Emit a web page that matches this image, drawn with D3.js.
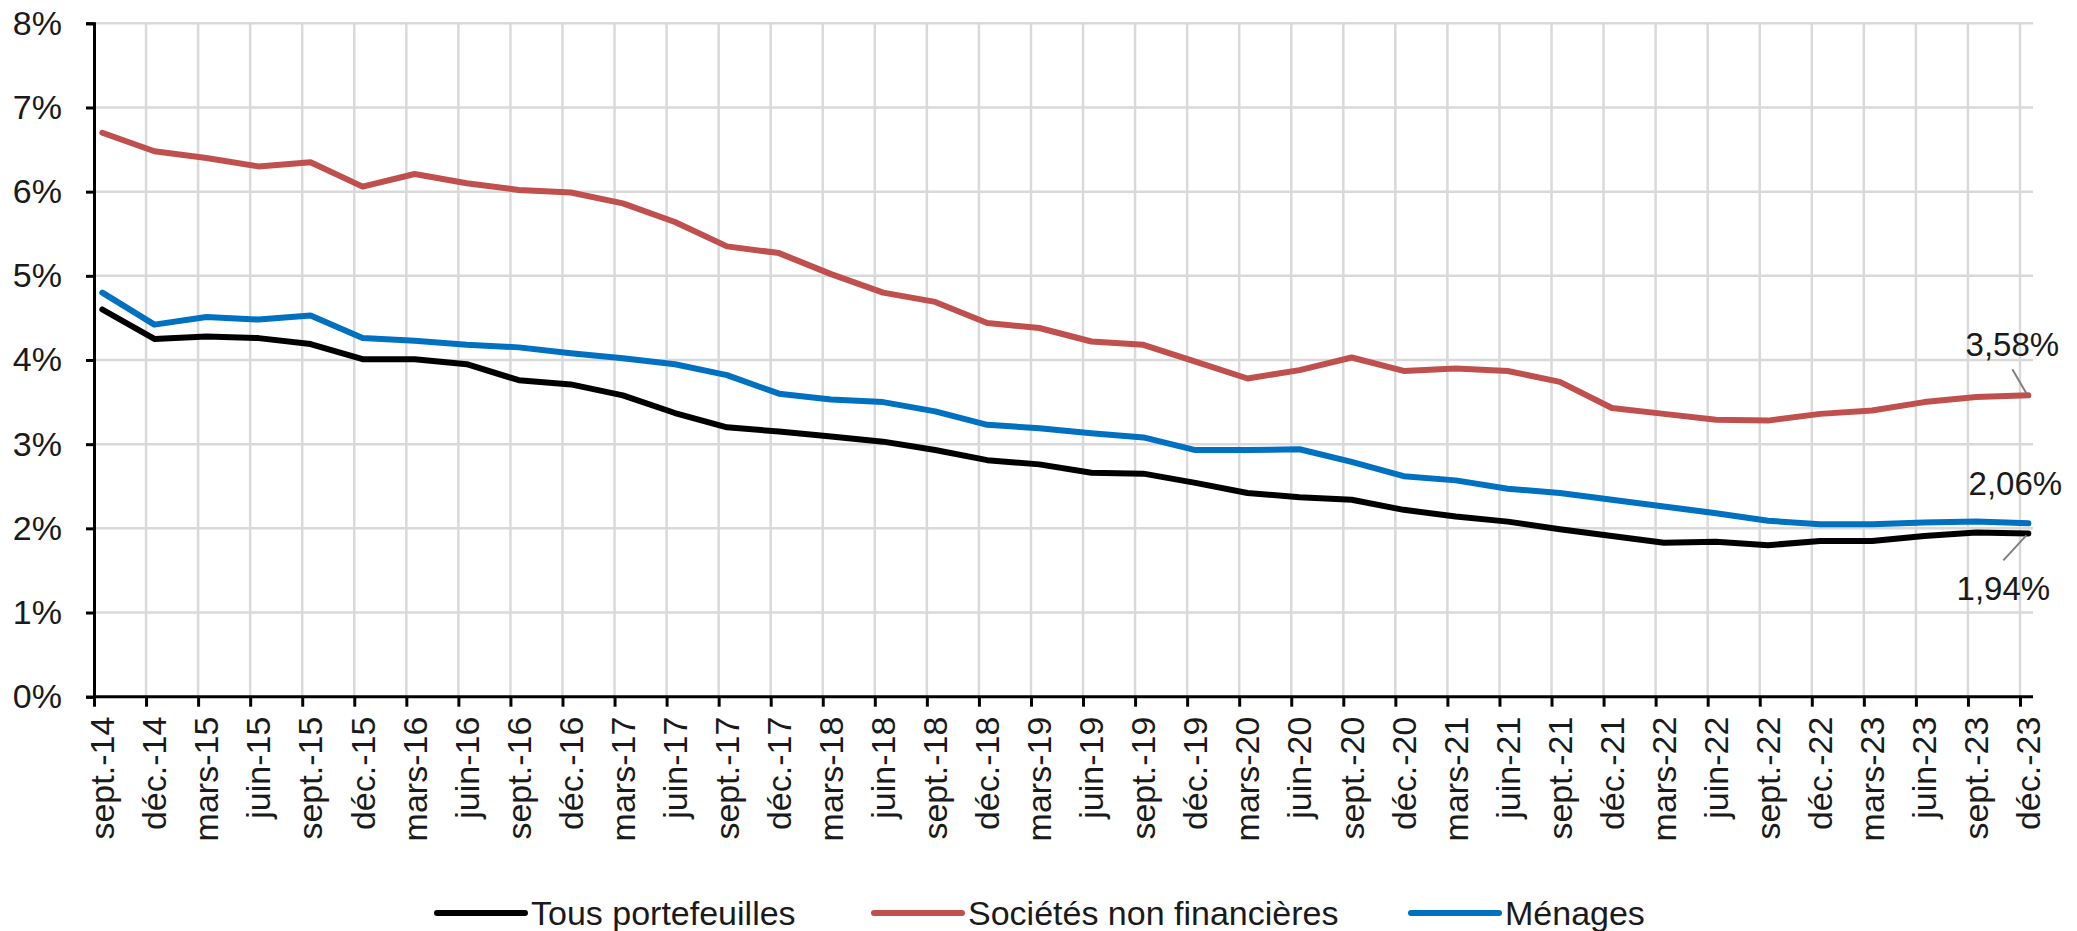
<!DOCTYPE html>
<html>
<head>
<meta charset="utf-8">
<script src="https://cdn.jsdelivr.net/npm/d3@7"></script>
<style>
  html, body { margin: 0; padding: 0; background: #fff; }
  svg { display: block; font-family: "Liberation Sans", Arial, sans-serif; }
</style>
</head>
<body>
<svg id="chart" width="2077" height="931"></svg>
<script>
const categories = ["sept.-14","déc.-14","mars-15","juin-15","sept.-15","déc.-15","mars-16","juin-16","sept.-16","déc.-16",
  "mars-17","juin-17","sept.-17","déc.-17","mars-18","juin-18","sept.-18","déc.-18","mars-19","juin-19",
  "sept.-19","déc.-19","mars-20","juin-20","sept.-20","déc.-20","mars-21","juin-21","sept.-21","déc.-21",
  "mars-22","juin-22","sept.-22","déc.-22","mars-23","juin-23","sept.-23","déc.-23"];

const tousPortefeuilles = [4.60,4.25,4.28,4.26,4.19,4.01,4.01,3.95,3.76,3.71,3.58,3.37,3.20,3.15,3.09,3.03,2.93,2.81,2.76,2.66,
  2.65,2.54,2.42,2.37,2.34,2.22,2.14,2.08,1.99,1.91,1.83,1.84,1.80,1.85,1.85,1.91,1.95,1.94];
const societesNonFinancieres = [6.70,6.48,6.40,6.30,6.35,6.06,6.21,6.10,6.02,5.99,5.86,5.64,5.35,5.27,5.02,4.80,4.69,4.44,4.38,4.22,
  4.18,3.98,3.78,3.88,4.03,3.87,3.90,3.87,3.74,3.43,3.36,3.29,3.28,3.36,3.40,3.50,3.56,3.58];
const menages = [4.80,4.42,4.51,4.48,4.53,4.26,4.23,4.18,4.15,4.08,4.02,3.95,3.82,3.60,3.53,3.50,3.39,3.23,3.19,3.13,
  3.08,2.93,2.93,2.94,2.79,2.62,2.57,2.47,2.42,2.34,2.26,2.18,2.09,2.05,2.05,2.07,2.08,2.06];

const yTicks = [0,1,2,3,4,5,6,7,8];
const yTickLabels = ["0%","1%","2%","3%","4%","5%","6%","7%","8%"];

const seriesNames = ["Tous portefeuilles","Sociétés non financières","Ménages"];
const seriesColors = ["#000000","#C0504D","#0070C0"];
const endLabels = ["1,94%","3,58%","2,06%"];

(function () {
const series = [
  {name: seriesNames[0], values: tousPortefeuilles, color: seriesColors[0], label: endLabels[0]},
  {name: seriesNames[1], values: societesNonFinancieres, color: seriesColors[1], label: endLabels[1]},
  {name: seriesNames[2], values: menages, color: seriesColors[2], label: endLabels[2]}
];

const svg = d3.select("#chart");
const plotLeft = 94, plotRight = 2020, plotTop = 23.3, plotBottom = 696.7, gridRight = 2033;
const pointOffset = 0.16;

const x = d3.scaleLinear().domain([0, categories.length - 1]).range([plotLeft, plotRight]);
const y = d3.scaleLinear().domain([0, 8]).range([plotBottom, plotTop]);
const px = i => x(i + pointOffset);

// horizontal gridlines
svg.append("g").selectAll("line").data(yTicks.filter(d => d > 0)).join("line")
  .attr("x1", plotLeft).attr("x2", gridRight)
  .attr("y1", d => y(d)).attr("y2", d => y(d))
  .attr("stroke", "#d9d9d9").attr("stroke-width", 2.5);

// vertical gridlines
svg.append("g").selectAll("line").data(d3.range(1, categories.length)).join("line")
  .attr("x1", d => x(d)).attr("x2", d => x(d))
  .attr("y1", plotTop).attr("y2", plotBottom)
  .attr("stroke", "#d9d9d9").attr("stroke-width", 2.5);

// y axis
const yAxis = d3.axisLeft(y).tickValues(yTicks).tickFormat((d, i) => yTickLabels[i]).tickSize(8).tickPadding(24);
const gy = svg.append("g").attr("transform", `translate(${plotLeft},0)`).call(yAxis);
gy.select(".domain").attr("stroke", "#000").attr("stroke-width", 3);
gy.selectAll(".tick line").attr("stroke", "#000").attr("stroke-width", 3);
gy.selectAll(".tick text").attr("font-size", 34).attr("fill", "#1a1a1a")
  .attr("font-family", "Liberation Sans, Arial, sans-serif");

// x axis ticks
const xAxis = d3.axisBottom(x).tickValues(d3.range(categories.length)).tickFormat("").tickSize(10).tickSizeOuter(0);
const gx = svg.append("g").attr("transform", `translate(0,${plotBottom})`).call(xAxis);
gx.select(".domain").attr("stroke", "#000").attr("stroke-width", 3).attr("d", `M${plotLeft},0H${gridRight}`);
gx.selectAll(".tick line").attr("stroke", "#000").attr("stroke-width", 3);

// x labels rotated
svg.append("g").selectAll("text").data(categories).join("text")
  .attr("transform", (d, i) => `translate(${px(i)},${plotBottom + 20}) rotate(-90)`)
  .attr("text-anchor", "end")
  .attr("dy", "0.35em")
  .attr("font-size", 34)
  .attr("fill", "#1a1a1a")
  .text(d => d);

// lines
const line = d3.line().x((d, i) => px(i)).y(d => y(d)).curve(d3.curveLinear);
const drawOrder = [1, 2, 0];
drawOrder.forEach(k => {
  const s = series[k];
  svg.append("path").datum(s.values)
    .attr("d", line)
    .attr("fill", "none")
    .attr("stroke", s.color)
    .attr("stroke-width", 6)
    .attr("stroke-linejoin", "round")
    .attr("stroke-linecap", "round");
});

// end labels
const last = categories.length - 1;
const lx = px(last);
const labelGroup = svg.append("g").attr("font-size", 33).attr("fill", "#1a1a1a");
labelGroup.append("text").attr("x", lx - 16).attr("y", y(societesNonFinancieres[last]) - 51)
  .attr("text-anchor", "middle").attr("dy", "0.35em").text(series[1].label);
svg.append("line").attr("x1", lx - 16).attr("y1", y(societesNonFinancieres[last]) - 26)
  .attr("x2", lx - 2).attr("y2", y(societesNonFinancieres[last]) - 2)
  .attr("stroke", "#808080").attr("stroke-width", 2);
labelGroup.append("text").attr("x", lx - 13).attr("y", y(menages[last]) - 40)
  .attr("text-anchor", "middle").attr("dy", "0.35em").text(series[2].label);
labelGroup.append("text").attr("x", lx - 25).attr("y", y(tousPortefeuilles[last]) + 55)
  .attr("text-anchor", "middle").attr("dy", "0.35em").text(series[0].label);
svg.append("line").attr("x1", lx - 25).attr("y1", y(tousPortefeuilles[last]) + 27)
  .attr("x2", lx - 2).attr("y2", y(tousPortefeuilles[last]) + 2)
  .attr("stroke", "#808080").attr("stroke-width", 2);

// legend
const legendY = 913;
const legendX = [437, 874, 1411];
const legend = svg.append("g");
series.forEach((s, i) => {
  legend.append("line").attr("x1", legendX[i]).attr("x2", legendX[i] + 88)
    .attr("y1", legendY).attr("y2", legendY)
    .attr("stroke", s.color).attr("stroke-width", 6).attr("stroke-linecap", "round");
  legend.append("text").attr("x", legendX[i] + 94).attr("y", legendY).attr("dy", "0.35em")
    .attr("font-size", 34).attr("fill", "#1a1a1a").text(s.name);
});
})();
</script>
</body>
</html>
